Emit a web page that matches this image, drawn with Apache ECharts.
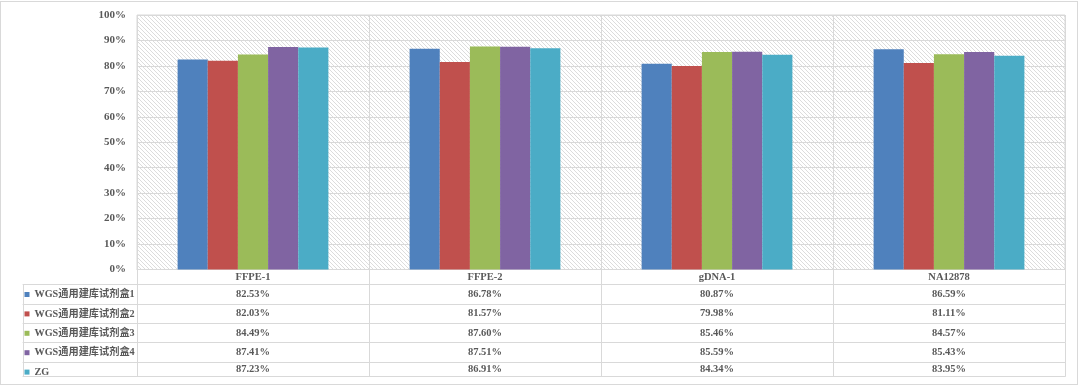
<!DOCTYPE html>
<html><head><meta charset="utf-8">
<script src="https://cdn.jsdelivr.net/npm/echarts@6/dist/echarts.min.js"></script>
<style>
html,body{margin:0;padding:0;background:#fff}
#c{width:1080px;height:385px}
#frame{position:absolute;left:0;top:1px;width:1078px;height:384px;box-sizing:border-box;border:1px solid #d9d9d9;pointer-events:none}
</style></head><body>
<div id="c"></div><div id="frame"></div>
<script>
// ---- data ----
const categories = ['FFPE-1', 'FFPE-2', 'gDNA-1', 'NA12878'];
const seriesNames = ['WGS通用建库试剂盒1', 'WGS通用建库试剂盒2', 'WGS通用建库试剂盒3', 'WGS通用建库试剂盒4', 'ZG'];
const kit1 = [82.53, 86.78, 80.87, 86.59];
const kit2 = [82.03, 81.57, 79.98, 81.11];
const kit3 = [84.49, 87.60, 85.46, 84.57];
const kit4 = [87.41, 87.51, 85.59, 85.43];
const zg   = [87.23, 86.91, 84.34, 83.95];
const yMin = 0, yMax = 100, yStep = 10;

// ---- styling / layout ----
const seriesValues = [kit1, kit2, kit3, kit4, zg];
const colors = ['#4F81BD', '#C0504D', '#9BBB59', '#8064A2', '#4BACC6'];
const lineColor = '#d9d9d9';
const textColor = '#595959';
const serif = '"Liberation Serif", "Times New Roman", "Noto Sans CJK SC", serif';
const rowOffsets = [0, 14.8, 34.5, 53.8, 73.2, 92.5, 107.2];
const fmt = v => v.toFixed(2) + '%';

// hatch pattern
const pc = document.createElement('canvas');
pc.width = 4; pc.height = 4;
const pctx = pc.getContext('2d');
pctx.fillStyle = '#ffffff'; pctx.fillRect(0, 0, 4, 4);
pctx.fillStyle = '#dcdcdc';
for (let i = 0; i < 4; i++) pctx.fillRect(i, i, 1, 1);

const xAxes = [];
xAxes.push({
  type: 'category', gridIndex: 0, data: categories, position: 'bottom',
  axisLine: { onZero: false, lineStyle: { color: lineColor, width: 1 } },
  axisTick: { show: true, length: rowOffsets[1], lineStyle: { color: lineColor } },
  axisLabel: { margin: 3, color: textColor, fontFamily: serif, fontWeight: 'bold', fontSize: 10.5 },
  splitLine: { show: true, lineStyle: { color: lineColor } }
});
seriesValues.forEach((vals, i) => {
  const h = rowOffsets[i + 2] - rowOffsets[i + 1];
  xAxes.push({
    type: 'category', gridIndex: 0, data: vals.map(fmt), position: 'bottom', offset: rowOffsets[i + 1],
    axisLine: { onZero: false, lineStyle: { color: lineColor } },
    axisTick: { show: true, length: h, lineStyle: { color: lineColor } },
    axisLabel: { margin: (h - 10.5) / 2, color: textColor, fontFamily: serif, fontWeight: 'bold', fontSize: 10.5 },
    splitLine: { show: false }
  });
});
xAxes.push({
  type: 'category', gridIndex: 0, data: categories, position: 'bottom', offset: rowOffsets[6],
  axisLine: { onZero: false, lineStyle: { color: lineColor } }, axisTick: { show: false }, axisLabel: { show: false }, splitLine: { show: false }
});
for (let i = 1; i < rowOffsets.length; i++) {
  const last = i === rowOffsets.length - 1;
  xAxes.push({
    type: 'category', gridIndex: 1, data: [''], position: 'bottom', offset: rowOffsets[i],
    axisLine: { onZero: false, lineStyle: { color: lineColor } },
    axisTick: { show: !last, length: last ? 0 : rowOffsets[i + 1] - rowOffsets[i], lineStyle: { color: lineColor } },
    axisLabel: { show: false }, splitLine: { show: false }
  });
}

const chart = echarts.init(document.getElementById('c'), null, { renderer: 'canvas' });
chart.setOption({
  animation: false,
  backgroundColor: '#ffffff',
  color: colors,
  grid: [
    { left: 137, right: 15, top: 15, bottom: 115.5, show: true, borderColor: lineColor, borderWidth: 1,
      backgroundColor: { image: pc, repeat: 'repeat' } },
    { left: 23, width: 114, top: 15, bottom: 115.5, show: false }
  ],
  legend: {
    orient: 'vertical', left: 24.5, top: 287.5, height: 120, padding: 0,
    itemWidth: 5, itemHeight: 5, itemGap: 5.4,
    icon: 'rect', data: seriesNames,
    textStyle: { color: textColor, fontFamily: serif, fontWeight: 'bold', fontSize: 10.2, lineHeight: 14 }
  },
  xAxis: xAxes,
  yAxis: [
    { type: 'value', gridIndex: 0, min: yMin, max: yMax, interval: yStep,
      axisLine: { show: false }, axisTick: { show: false },
      axisLabel: { margin: 11, formatter: '{value}%', color: textColor, fontFamily: serif, fontWeight: 'bold', fontSize: 11 },
      splitLine: { lineStyle: { color: lineColor } } },
    { type: 'value', gridIndex: 1, min: 0, max: 1, show: false }
  ],
  series: seriesNames.map((name, i) => ({
    name, type: 'bar', xAxisIndex: 0, yAxisIndex: 0, data: seriesValues[i],
    barGap: '0%', barCategoryGap: '35%',
    itemStyle: { color: colors[i] }
  }))
});
</script>
</body></html>
